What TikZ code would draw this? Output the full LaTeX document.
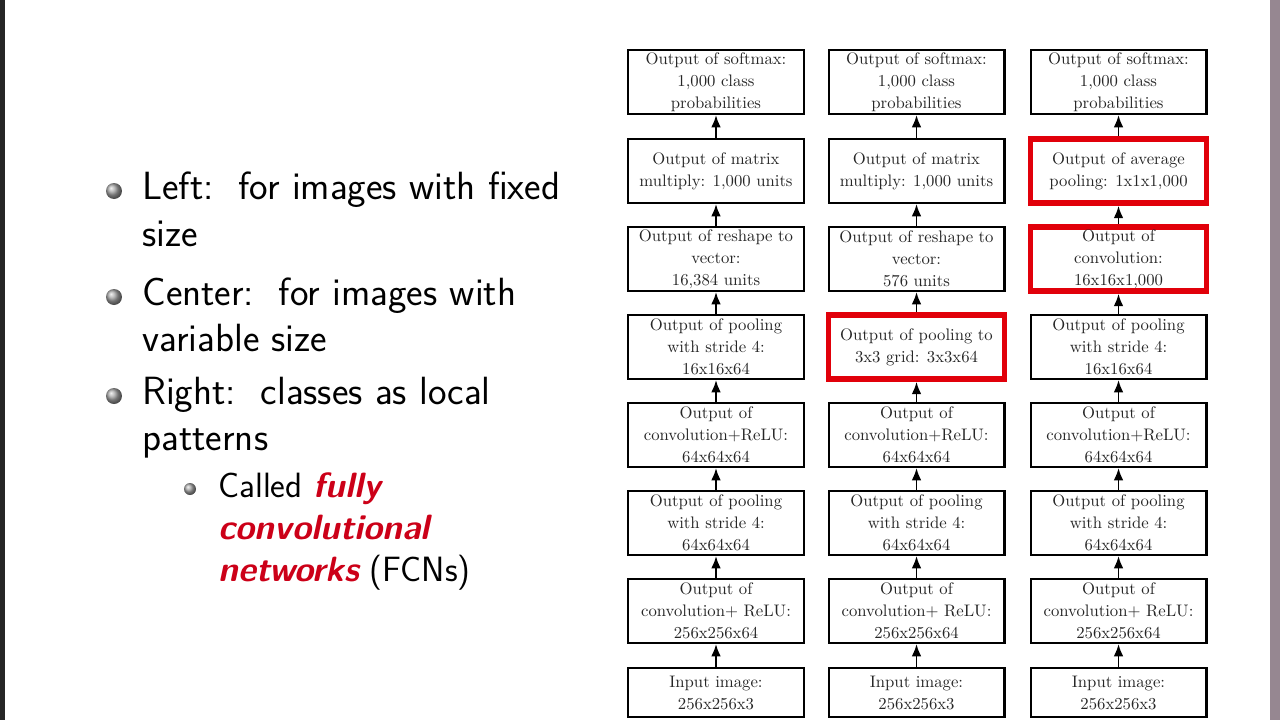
\documentclass[tikz,border=0pt]{standalone}
\usetikzlibrary{arrows.meta}
\definecolor{boxred}{RGB}{225,0,10}
\definecolor{alertred}{RGB}{204,0,24}
\definecolor{stripcol}{RGB}{150,135,145}
\begin{document}
\begin{tikzpicture}[x=0.02cm,y=-0.02cm,
  layer/.style={draw=black, line width=1.15pt, minimum width=3.52cm, minimum height=1.28cm,
    inner sep=0pt, align=center, font=\fontsize{9.5}{12.5}\selectfont, text=black!85},
  inbox/.style={layer, minimum height=0.98cm},
  hl/.style={draw=boxred, line width=3.2pt},
  flow/.style={-{Latex[length=7pt,width=5.5pt]}, line width=1.1pt},
  mainball/.style={circle, inner sep=0pt, minimum size=0.32cm, shading=ball, ball color=gray!70},
  subball/.style={circle, inner sep=0pt, minimum size=0.24cm, shading=ball, ball color=gray!70},
  maintext/.style={anchor=base west, inner sep=0pt, font=\sffamily\fontsize{22.4}{26}\selectfont},
  subtext/.style={anchor=base west, inner sep=0pt, font=\sffamily\fontsize{20}{24}\selectfont}
]
\useasboundingbox (0,0) rectangle (1280,720);
\fill[white] (0,0) rectangle (1280,720);
% slide edges
\fill[black!85] (0,0) rectangle (5,720);
\fill[stripcol] (1270,0) rectangle (1280,720);

% bullets
\node[mainball] (b1) at (114,191) {};
\node[maintext] (t1a) at (142,199) {Left:\ \ for images with fixed};
\node[maintext] (t1b) at (142,246) {size};
\node[mainball] (b2) at (114,297) {};
\node[maintext] (t2a) at (142,305) {Center:\ \ for images with};
\node[maintext] (t2b) at (142,351) {variable size};
\node[mainball] (b3) at (114,396) {};
\node[maintext] (t3a) at (142,404) {Right:\ \ classes as local};
\node[maintext] (t3b) at (142,450) {patterns};
\node[subball] (s1) at (190,489) {};
\node[subtext] (u1) at (218,497) {Called \textcolor{alertred}{\bfseries\itshape fully}};
\node[subtext] (u2) at (218,539) {\textcolor{alertred}{\bfseries\itshape convolutional}};
\node[subtext] (u3) at (218,581) {\textcolor{alertred}{\bfseries\itshape networks} (FCNs)};

% column 1
\node[layer] (a1) at (716,82) {Output of softmax:\\1,000 class\\probabilities};
\node[layer] (a2) at (716,171) {Output of matrix\\multiply: 1,000 units};
\node[layer] (a3) at (716,259) {Output of reshape to\\vector:\\16,384 units};
\node[layer] (a4) at (716,347) {Output of pooling\\with stride 4:\\16x16x64};
\node[layer] (a5) at (716,435) {Output of\\convolution+ReLU:\\64x64x64};
\node[layer] (a6) at (716,523) {Output of pooling\\with stride 4:\\64x64x64};
\node[layer] (a7) at (716,611) {Output of\\convolution+ ReLU:\\256x256x64};
\node[inbox] (a8) at (716,692.5) {Input image:\\256x256x3};

% column 2
\node[layer] (b1n) at (916.5,82) {Output of softmax:\\1,000 class\\probabilities};
\node[layer] (b2n) at (916.5,171) {Output of matrix\\multiply: 1,000 units};
\node[layer] (b3n) at (916.5,259) {Output of reshape to\\vector:\\576 units};
\node[layer,hl] (b4n) at (916.5,347) {Output of pooling to\\3x3 grid: 3x3x64};
\node[layer] (b5n) at (916.5,435) {Output of\\convolution+ReLU:\\64x64x64};
\node[layer] (b6n) at (916.5,523) {Output of pooling\\with stride 4:\\64x64x64};
\node[layer] (b7n) at (916.5,611) {Output of\\convolution+ ReLU:\\256x256x64};
\node[inbox] (b8n) at (916.5,692.5) {Input image:\\256x256x3};

% column 3
\node[layer] (c1) at (1118.5,82) {Output of softmax:\\1,000 class\\probabilities};
\node[layer,hl] (c2) at (1118.5,171) {Output of average\\pooling: 1x1x1,000};
\node[layer,hl] (c3) at (1118.5,259) {Output of\\convolution:\\16x16x1,000};
\node[layer] (c4) at (1118.5,347) {Output of pooling\\with stride 4:\\16x16x64};
\node[layer] (c5) at (1118.5,435) {Output of\\convolution+ReLU:\\64x64x64};
\node[layer] (c6) at (1118.5,523) {Output of pooling\\with stride 4:\\64x64x64};
\node[layer] (c7) at (1118.5,611) {Output of\\convolution+ ReLU:\\256x256x64};
\node[inbox] (c8) at (1118.5,692.5) {Input image:\\256x256x3};

% arrows
\draw[flow] (a8) -- (a7);
\draw[flow] (a7) -- (a6);
\draw[flow] (a6) -- (a5);
\draw[flow] (a5) -- (a4);
\draw[flow] (a4) -- (a3);
\draw[flow] (a3) -- (a2);
\draw[flow] (a2) -- (a1);
\draw[flow] (b8n) -- (b7n);
\draw[flow] (b7n) -- (b6n);
\draw[flow] (b6n) -- (b5n);
\draw[flow] (b5n) -- (b4n);
\draw[flow] (b4n) -- (b3n);
\draw[flow] (b3n) -- (b2n);
\draw[flow] (b2n) -- (b1n);
\draw[flow] (c8) -- (c7);
\draw[flow] (c7) -- (c6);
\draw[flow] (c6) -- (c5);
\draw[flow] (c5) -- (c4);
\draw[flow] (c4) -- (c3);
\draw[flow] (c3) -- (c2);
\draw[flow] (c2) -- (c1);
\end{tikzpicture}
\end{document}
